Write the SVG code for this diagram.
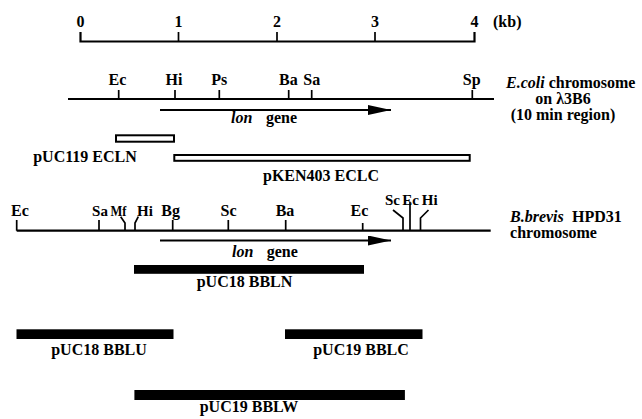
<svg xmlns="http://www.w3.org/2000/svg" width="642" height="419" viewBox="0 0 642 419">
<style>
text{font-family:"Liberation Serif","Times New Roman",serif;font-weight:bold;font-size:16px;fill:#000}
.c{text-anchor:middle}
.i{font-style:italic}
.s{font-size:15px}
.ln{stroke:#000;stroke-width:2.2;fill:none}
.tk{stroke:#000;stroke-width:1.7;fill:none}
.box{stroke:#000;stroke-width:2;fill:#fff}
.bar{fill:#000}
</style>
<defs>
<marker id="head" markerUnits="userSpaceOnUse" markerWidth="23" markerHeight="10" refX="23" refY="5" orient="auto" viewBox="0 0 23 10">
<path d="M0,0 L23,5 L0,10 Z" fill="#000"/>
</marker>
</defs>
<rect width="642" height="419" fill="#fff"/>

<g id="scale">
<path class="ln" d="M80.5,32 V41.5 H474.5 V32" stroke-width="2.4"/>
<path class="tk" d="M178.5,32 V41.5 M277,32 V41.5 M375,32 V41.5"/>
<text class="c" x="80.5" y="27">0</text>
<text class="c" x="178.5" y="27">1</text>
<text class="c" x="277" y="27">2</text>
<text class="c" x="375" y="27">3</text>
<text class="c" x="474.5" y="27">4</text>
<text x="493" y="27">(kb)</text>
</g>

<g id="ecoli-chromosome">
<line class="ln" x1="68" y1="99" x2="494" y2="99"/>
<path class="tk" d="M118.7,90 V99 M175,90 V99 M219.3,90 V99 M288.7,90 V99 M311.7,90 V99 M472.3,90 V99"/>
<text class="c" x="117.5" y="85">Ec</text>
<text class="c" x="174" y="85">Hi</text>
<text class="c" x="219.3" y="85">Ps</text>
<text class="c" x="288.3" y="85">Ba</text>
<text class="c" x="311.7" y="85">Sa</text>
<text class="c" x="471.7" y="85">Sp</text>
<text x="506" y="88"><tspan class="i">E.coli</tspan> chromosome</text>
<text class="c" x="563" y="104">on λ3B6</text>
<text class="c" x="563" y="120">(10 min region)</text>
</g>

<g id="pUC119-ECLN">
<rect class="box" x="116" y="135.3" width="58" height="6.4"/>
<text class="c" x="85" y="162">pUC119 ECLN</text>
</g>

<g id="pKEN403-ECLC">
<rect class="box" x="174.3" y="155" width="295.4" height="5.8"/>
<text class="c" x="321" y="181">pKEN403 ECLC</text>
</g>

<g id="bbrevis-chromosome">
<line class="ln" x1="16.7" y1="230.7" x2="490.7" y2="230.7"/>
<path class="tk" d="M16.7,220 V230.7 M99,220 V230.7 M172.7,220 V230.7 M228.3,220 V230.7 M285.7,220 V230.7 M362.7,223 V230.7"/>
<path class="tk" d="M120.7,216.7 L125,223 V230.7 M138.3,216.7 L135,223 V230.7"/>
<path class="tk" d="M393,210 L403,218 V230.7 M410,201.7 V230.7 M428.5,210 L420.5,218 V230.7"/>
<text class="c" x="20" y="215.5">Ec</text>
<text class="c s" x="100" y="215.5">Sa</text>
<text class="c s" x="118.5" y="215.5" textLength="16" lengthAdjust="spacingAndGlyphs">Mf</text>
<text class="c s" x="145" y="215.5">Hi</text>
<text class="c" x="170.7" y="215.5">Bg</text>
<text class="c" x="228.5" y="215.5">Sc</text>
<text class="c" x="285" y="215.5">Ba</text>
<text class="c" x="359.5" y="216">Ec</text>
<text class="c s" x="392.5" y="204.5">Sc</text>
<text class="c s" x="410.7" y="204.5">Ec</text>
<text class="c s" x="429.7" y="204.5">Hi</text>
<text class="i" x="510" y="222">B.brevis</text>
<text x="572" y="222">HPD31</text>
<text class="c" x="553.5" y="237.5">chromosome</text>
</g>

<g id="connectors">
<line class="ln" x1="160" y1="110" x2="391" y2="110" marker-end="url(#head)"/>
<line class="ln" x1="160" y1="240.5" x2="391" y2="240.5" marker-end="url(#head)"/>
</g>

<g id="lon-gene-ecoli">
<text class="i" x="231" y="123.3">lon</text>
<text x="266" y="123.3">gene</text>
</g>

<g id="lon-gene-bbrevis">
<text class="i" x="232" y="256.7">lon</text>
<text x="266.7" y="256.7">gene</text>
</g>

<g id="pUC18-BBLN">
<rect class="bar" x="134" y="265" width="230" height="8.8"/>
<text class="c" x="244.5" y="286.7">pUC18 BBLN</text>
</g>

<g id="pUC18-BBLU">
<rect class="bar" x="16.5" y="329.3" width="157" height="9.7"/>
<text class="c" x="99" y="355">pUC18 BBLU</text>
</g>

<g id="pUC19-BBLC">
<rect class="bar" x="285" y="329.3" width="137.5" height="9.7"/>
<text class="c" x="361" y="355">pUC19 BBLC</text>
</g>

<g id="pUC19-BBLW">
<rect class="bar" x="134.4" y="390" width="270.5" height="10"/>
<text class="c" x="249" y="411.5">pUC19 BBLW</text>
</g>
</svg>
